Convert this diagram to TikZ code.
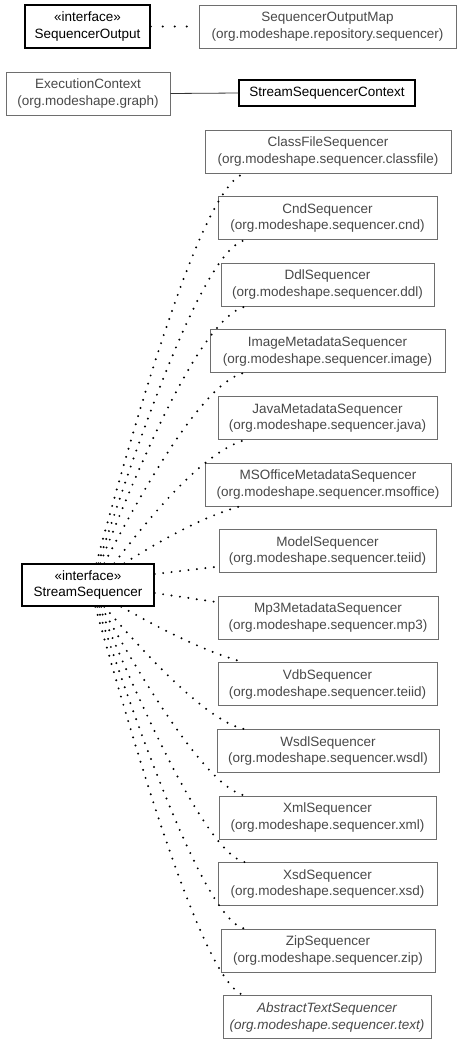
\documentclass[tikz,border=0pt]{standalone}
\usepackage{fontspec}
\setmainfont{Liberation Sans}
\usetikzlibrary{calc}
\definecolor{gborder}{RGB}{110,110,110}
\definecolor{gtext}{RGB}{72,72,72}
\tikzset{
  box/.style={draw, rectangle, inner sep=0pt, minimum height=43pt, align=center,
    font=\fontsize{13.5}{16.5}\selectfont},
  extbox/.style={box, draw=gborder, text=gtext, line width=1pt},
  ownbox/.style={box, draw=black, text=black, line width=1.4pt},
  dep/.style={line width=2.2pt, dash pattern=on 0pt off 8.5pt, line cap=round},
  assoc/.style={line width=0.8pt, draw=black!80}
}
\begin{document}
\begin{tikzpicture}[x=1pt,y=-1pt]
\useasboundingbox (0,0) rectangle (461,1045);
% top area
\node[ownbox, minimum width=125pt] (so) at (87.5,26.5) {«interface»\\SequencerOutput};
\node[extbox, minimum width=257pt] (som) at (327.5,26.5) {SequencerOutputMap\\(org.modeshape.repository.sequencer)};
\node[extbox, minimum width=164pt] (ec) at (88,93.5) {ExecutionContext\\(org.modeshape.graph)};
\node[ownbox, minimum width=176pt, minimum height=26pt] (ssc) at (327,93) {StreamSequencerContext};
\draw[dep, dash pattern=on 0pt off 12pt] (so.east) -- (som.west);
\draw[assoc] (ec.east) -- (ssc.west);
% main interface
\node[ownbox, minimum width=132pt, minimum height=42pt] (ss) at (88,585) {«interface»\\StreamSequencer};
% implementations
\node[extbox, minimum width=246pt] (cf)  at (328,151.5) {ClassFileSequencer\\(org.modeshape.sequencer.classfile)};
\node[extbox, minimum width=219pt] (cnd) at (327.5,218.1) {CndSequencer\\(org.modeshape.sequencer.cnd)};
\node[extbox, minimum width=213pt] (ddl) at (327.5,284.7) {DdlSequencer\\(org.modeshape.sequencer.ddl)};
\node[extbox, minimum width=235pt] (img) at (327.5,351.3) {ImageMetadataSequencer\\(org.modeshape.sequencer.image)};
\node[extbox, minimum width=219pt] (jav) at (327.5,417.9) {JavaMetadataSequencer\\(org.modeshape.sequencer.java)};
\node[extbox, minimum width=246pt] (mso) at (328,484.5) {MSOfficeMetadataSequencer\\(org.modeshape.sequencer.msoffice)};
\node[extbox, minimum width=217pt] (mod) at (327.5,551.1) {ModelSequencer\\(org.modeshape.sequencer.teiid)};
\node[extbox, minimum width=220pt] (mp3) at (328,617.7) {Mp3MetadataSequencer\\(org.modeshape.sequencer.mp3)};
\node[extbox, minimum width=219pt] (vdb) at (327.5,684.3) {VdbSequencer\\(org.modeshape.sequencer.teiid)};
\node[extbox, minimum width=222pt] (wsd) at (328,750.9) {WsdlSequencer\\(org.modeshape.sequencer.wsdl)};
\node[extbox, minimum width=217pt] (xml) at (327.5,817.5) {XmlSequencer\\(org.modeshape.sequencer.xml)};
\node[extbox, minimum width=219pt] (xsd) at (327.5,884.1) {XsdSequencer\\(org.modeshape.sequencer.xsd)};
\node[extbox, minimum width=214pt] (zip) at (328,950.7) {ZipSequencer\\(org.modeshape.sequencer.zip)};
\node[extbox, minimum width=208pt] (ats) at (327,1017.3) {\itshape AbstractTextSequencer\\\itshape (org.modeshape.sequencer.text)};
% upper connectors
\draw[dep] ([xshift=75pt]ss.north west) .. controls ($([xshift=75pt]ss.north west)!0.3!(200,185)$) and (200,185) .. ([xshift=40pt]cf.south west);
\draw[dep] ([xshift=77pt]ss.north west) .. controls ($([xshift=77pt]ss.north west)!0.3!(200,252)$) and (200,252) .. ([xshift=27pt]cnd.south west);
\draw[dep] ([xshift=79pt]ss.north west) .. controls ($([xshift=79pt]ss.north west)!0.3!(197,320)$) and (197,320) .. ([xshift=24pt]ddl.south west);
\draw[dep] ([xshift=83pt]ss.north west) .. controls ($([xshift=83pt]ss.north west)!0.3!(198,386)$) and (198,386) .. ([xshift=33pt]img.south west);
\draw[dep] ([xshift=93pt]ss.north west) .. controls ($([xshift=93pt]ss.north west)!0.3!(200,452)$) and (200,452) .. ([xshift=28pt]jav.south west);
\draw[dep] ([xshift=103pt]ss.north west) .. controls ($([xshift=103pt]ss.north west)!0.3!(195,519)$) and (195,519) .. ([xshift=35pt]mso.south west);
% side connectors
\draw[dep] ([yshift=11pt]ss.east) -- ([yshift=-15.5pt]mod.west);
\draw[dep] ([yshift=-8pt]ss.east) -- ([yshift=15.5pt]mp3.west);
% lower connectors
\draw[dep] ([xshift=100pt]ss.south west) .. controls ($([xshift=100pt]ss.south west)!0.3!(200,651)$) and (200,651) .. ([xshift=27pt]vdb.north west);
\draw[dep] ([xshift=83pt]ss.south west) .. controls ($([xshift=83pt]ss.south west)!0.3!(203,720)$) and (203,720) .. ([xshift=27pt]wsd.north west);
\draw[dep] ([xshift=80pt]ss.south west) .. controls ($([xshift=80pt]ss.south west)!0.3!(203,786)$) and (203,786) .. ([xshift=26pt]xml.north west);
\draw[dep] ([xshift=78pt]ss.south west) .. controls ($([xshift=78pt]ss.south west)!0.3!(203,852)$) and (203,852) .. ([xshift=27pt]xsd.north west);
\draw[dep] ([xshift=76pt]ss.south west) .. controls ($([xshift=76pt]ss.south west)!0.3!(202,919)$) and (202,919) .. ([xshift=24pt]zip.north west);
\draw[dep] ([xshift=74pt]ss.south west) .. controls ($([xshift=74pt]ss.south west)!0.3!(202,986)$) and (202,986) .. ([xshift=22pt]ats.north west);
\end{tikzpicture}
\end{document}
